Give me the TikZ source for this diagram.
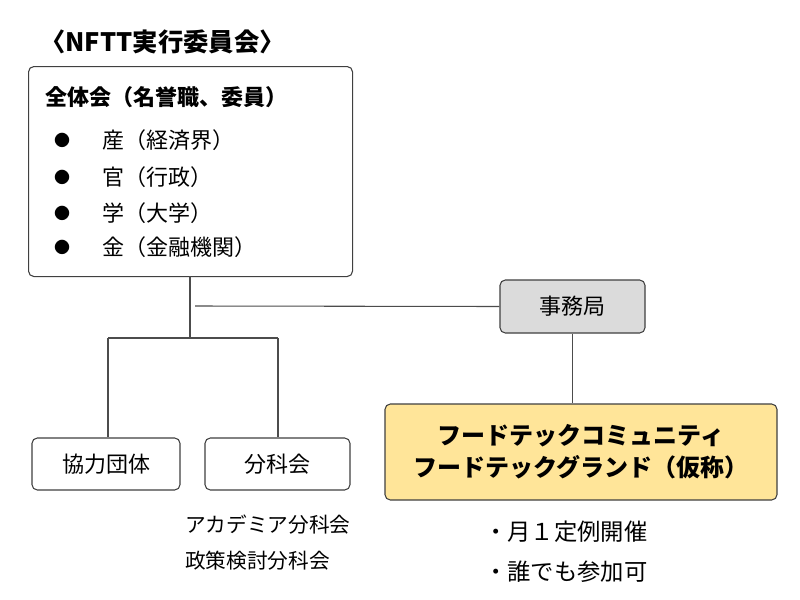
\documentclass[tikz,border=0pt]{standalone}
\usepackage{fontspec}
\setmainfont{Noto Sans CJK JP}
\definecolor{fdy}{HTML}{FFE599}
\begin{document}
\begin{tikzpicture}[x=0.75pt,y=-0.75pt,
  box/.style={draw=black!75,line width=0.8pt,rounded corners=4pt},
  txt/.style={font=\fontsize{16.5}{20}\selectfont,inner sep=0pt},
  ln/.style={draw=black!70,line width=0.8pt}]
\fill[white] (0,0) rectangle (800,600);
\node[txt,anchor=west,font=\fontsize{19}{22}\selectfont\bfseries] (title) at (40,42) {〈NFTT実行委員会〉};
\node[box,minimum width=324*0.75pt,minimum height=210*0.75pt,anchor=north west] (all) at (28,66) {};
\node[txt,anchor=west,font=\fontsize{16.5}{20}\selectfont\bfseries] (h) at (45,97) {全体会（名誉職、委員）};
\foreach \y/\t [count=\i] in {140/産（経済界）,177/官（行政）,213/学（大学）,247/金（金融機関）}{
  \node[txt,font=\fontsize{12}{14}\selectfont] (b\i) at (62,\y) {●};
  \node[txt,anchor=west] (t\i) at (102,\y) {\t};
}
\node[box,fill=black!14,minimum width=145*0.75pt,minimum height=53*0.75pt] (jim) at (572.5,306.5) {};
\node[txt] (jimt) at (jim) {事務局};
\node[box,fill=fdy,minimum width=392*0.75pt,minimum height=96*0.75pt] (fd) at (581,452) {};
\node[txt,align=center,font=\fontsize{18}{24}\selectfont\bfseries] (fdt) at (581,452) {フードテックコミュニティ\\フードテックグランド（仮称）};
\node[box,minimum width=148*0.75pt,minimum height=52*0.75pt] (kyo) at (106,464) {};
\node[txt] (kyot) at (kyo) {協力団体};
\node[box,minimum width=145*0.75pt,minimum height=52*0.75pt] (bun) at (277.5,464) {};
\node[txt] (bunt) at (bun) {分科会};
\coordinate (a1) at (190,276); \coordinate (a2) at (190,338);
\coordinate (h1) at (195,306);
\coordinate (l) at (108,338); \coordinate (r) at (278,338);
\draw[ln] (a1) -- (a2);
\draw[ln] (h1) -- (jim.west);
\draw[ln] (l) -- (r);
\draw[ln] (l) -- (l |- kyo.north);
\draw[ln] (r) -- (r |- bun.north);
\draw[ln] (jim.south) -- (fd.north -| jim.south);
\node[txt,font=\fontsize{15.5}{18}\selectfont,anchor=west] (s1) at (185,525) {アカデミア分科会};
\node[txt,font=\fontsize{15.5}{18}\selectfont,anchor=west] (s2) at (185,561) {政策検討分科会};
\node[txt,font=\fontsize{17.5}{20}\selectfont,anchor=west] (m1) at (484,532) {・月１定例開催};
\node[txt,font=\fontsize{17.5}{20}\selectfont,anchor=west] (m2) at (484,572) {・誰でも参加可};
\end{tikzpicture}
\end{document}
